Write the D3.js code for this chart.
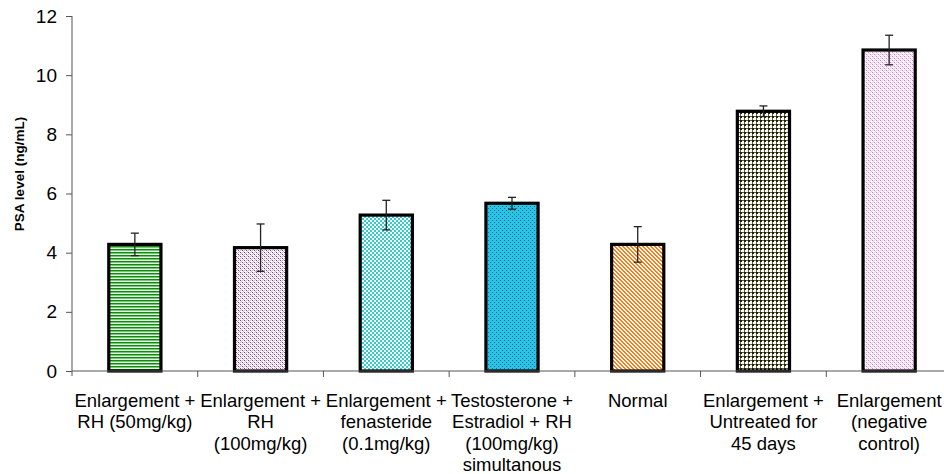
<!DOCTYPE html>
<html>
<head>
<meta charset="utf-8">
<script src="https://cdn.jsdelivr.net/npm/d3@7"></script>
<style>
  html, body { margin: 0; padding: 0; background: #fff; }
  svg { display: block; font-family: Arial, "Liberation Sans", sans-serif; }
</style>
</head>
<body>
<svg id="chart" width="944" height="474"></svg>
<script>
// Group labels (one entry per line of the axis label)
const categories = [
  ["Enlargement +", "RH (50mg/kg)"],
  ["Enlargement +", "RH", "(100mg/kg)"],
  ["Enlargement +", "fenasteride", "(0.1mg/kg)"],
  ["Testosterone +", "Estradiol + RH", "(100mg/kg)", "simultanous"],
  ["Normal"],
  ["Enlargement +", "Untreated for", "45 days"],
  ["Enlargement", "(negative", "control)"]
];
// Mean PSA level (ng/mL) and error per group
const psaMean = [4.28, 4.17, 5.27, 5.67, 4.28, 8.78, 10.85];
const psaErr  = [0.38, 0.80, 0.50, 0.20, 0.60, 0.18, 0.50];
const yTicks  = [0, 2, 4, 6, 8, 10, 12];
const patternIds = ["pGreen", "pPurple", "pCyan", "pBlueDot", "pOrange", "pOlive", "pPink"];

const svg = d3.select("#chart");
const margin = { left: 72, top: 16, bottom: 371 };
const plotRight = 952;

const ids = categories.map((c, i) => "g" + i);

const xSlot = d3.scaleBand().domain(ids).range([margin.left, plotRight]).padding(0);
const x = d3.scaleBand().domain(ids).range([margin.left, plotRight])
  .paddingInner(0.585).paddingOuter(0.2925);
const y = d3.scaleLinear().domain([0, 12]).range([margin.bottom, margin.top]);

// ---- fill patterns ----
const defs = svg.append("defs");
function pattern(id, w, h, draw) {
  const p = defs.append("pattern").attr("id", id)
    .attr("patternUnits", "userSpaceOnUse").attr("width", w).attr("height", h);
  draw(p);
}
function px(p, cells, color) {
  cells.forEach(([cx, cy, cw, ch]) => p.append("rect")
    .attr("x", cx).attr("y", cy).attr("width", cw || 1).attr("height", ch || 1).attr("fill", color));
}
// horizontal green stripes
pattern("pGreen", 4, 3, p => {
  px(p, [[0, 0, 4, 3]], "#e6f4e6");
  px(p, [[0, 0, 4, 1]], "#0b8c0b");
  px(p, [[0, 1, 4, 1]], "#7cc27c");
});
// purple speckle
pattern("pPurple", 4, 4, p => {
  px(p, [[0, 0, 4, 4]], "#ffffff");
  px(p, [[0, 0], [2, 2]], "#962d9c");
  px(p, [[2, 0], [0, 2]], "#d9a6dc");
  px(p, [[1, 1], [3, 3]], "#c8b4cc");
});
// cyan checkerboard
pattern("pCyan", 4, 4, p => {
  px(p, [[0, 0, 4, 4]], "#ffffff");
  px(p, [[0, 0, 2, 2], [2, 2, 2, 2]], "#33cccc");
});
// cyan with purple dots
pattern("pBlueDot", 4, 4, p => {
  px(p, [[0, 0, 4, 4]], "#1ccbe6");
  px(p, [[0, 0], [2, 2]], "#7c3a96");
});
// orange diagonal stripes
pattern("pOrange", 4, 4, p => {
  px(p, [[0, 0, 4, 4]], "#ffffff");
  px(p, [[0, 0, 2, 1], [1, 1, 2, 1], [2, 2, 2, 1], [3, 3, 1, 1], [0, 3, 1, 1]], "#ff7a10");
});
// dark olive grid
pattern("pOlive", 4, 4, p => {
  px(p, [[0, 0, 4, 4]], "#ffffff");
  px(p, [[0, 0, 4, 1], [0, 0, 1, 4]], "#5e5e38");
  px(p, [[0, 0, 2, 2]], "#22220a");
});
// pink diagonal checker
pattern("pPink", 4, 4, p => {
  px(p, [[0, 0, 4, 4]], "#ffffff");
  px(p, [[0, 0], [2, 2]], "#ee66e6");
  px(p, [[1, 1], [3, 3], [2, 0], [0, 2]], "#fbc4f6");
});

// ---- bars ----
const data = ids.map((id, i) => ({ id, v: psaMean[i], e: psaErr[i], fill: patternIds[i] }));

svg.append("g").selectAll("rect").data(data).join("rect")
  .attr("x", d => x(d.id))
  .attr("y", d => y(d.v))
  .attr("width", x.bandwidth())
  .attr("height", d => y(0) - y(d.v))
  .attr("fill", d => `url(#${d.fill})`)
  .attr("stroke", "#000").attr("stroke-width", 3.2);

// ---- error bars ----
const eg = svg.append("g").attr("stroke", "#222").attr("stroke-width", 1.3);
data.forEach(d => {
  const cx = x(d.id) + x.bandwidth() / 2;
  eg.append("line").attr("x1", cx).attr("x2", cx).attr("y1", y(d.v + d.e)).attr("y2", y(d.v - d.e));
  [d.v + d.e, d.v - d.e].forEach(val =>
    eg.append("line").attr("x1", cx - 4).attr("x2", cx + 4).attr("y1", y(val)).attr("y2", y(val)));
});

// ---- y axis ----
const yAxis = svg.append("g").attr("transform", `translate(${margin.left},0)`)
  .call(d3.axisLeft(y).tickValues(yTicks).tickFormat(d3.format("d")).tickSize(6).tickPadding(9));
yAxis.select(".domain").attr("stroke", "#555").attr("d", `M0,${margin.top}V${margin.bottom + 5}`);
yAxis.selectAll(".tick line").attr("stroke", "#555");
yAxis.selectAll("text").attr("font-size", 19).attr("fill", "#000")
  .attr("font-family", "Arial, 'Liberation Sans', sans-serif");

// ---- x axis ----
const xg = svg.append("g");
xg.append("line").attr("x1", margin.left).attr("x2", plotRight)
  .attr("y1", y(0)).attr("y2", y(0)).attr("stroke", "#555");
xg.selectAll("line.tk").data(ids.slice(1)).join("line").attr("class", "tk")
  .attr("x1", d => xSlot(d)).attr("x2", d => xSlot(d))
  .attr("y1", y(0)).attr("y2", y(0) + 6).attr("stroke", "#555");

const lab = xg.selectAll("text.cat").data(categories).join("text").attr("class", "cat")
  .attr("text-anchor", "middle").attr("font-size", 18.5).attr("fill", "#000")
  .attr("transform", (c, i) => `translate(${xSlot(ids[i]) + xSlot.bandwidth() / 2},407)`);
lab.selectAll("tspan").data(c => c).join("tspan")
  .attr("x", 0).attr("y", (t, j) => j * 21.3).text(t => t);

// ---- y title ----
svg.append("text").attr("transform", "translate(24,174) rotate(-90)")
  .attr("text-anchor", "middle").attr("font-size", 13.5).attr("font-weight", "bold")
  .text("PSA level (ng/mL)");
</script>
</body>
</html>
